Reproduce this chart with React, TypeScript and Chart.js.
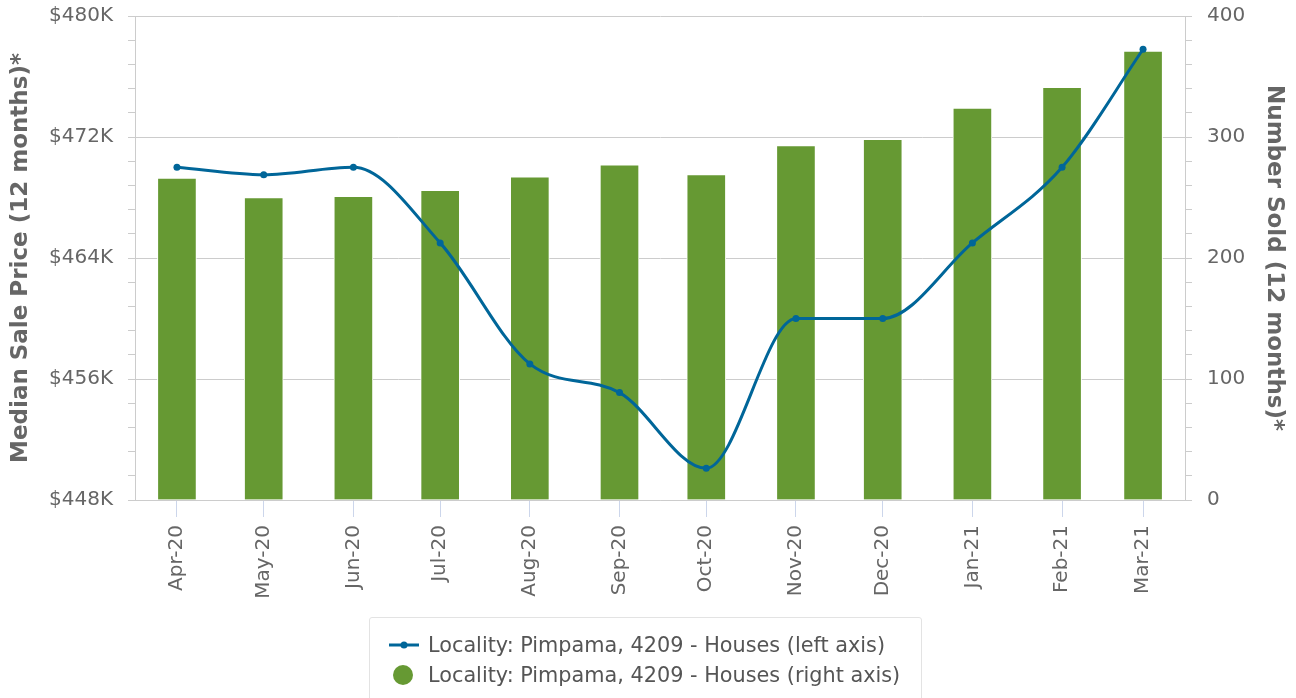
import React, { useEffect, useRef } from "react";
import { Chart, registerables } from "chart.js";

Chart.register(...registerables);

// ---- Data ----
const monthLabels = ["Apr-20", "May-20", "Jun-20", "Jul-20", "Aug-20", "Sep-20", "Oct-20", "Nov-20", "Dec-20", "Jan-21", "Feb-21", "Mar-21"];
const monthDates = ["2020-04-01", "2020-05-01", "2020-06-01", "2020-07-01", "2020-08-01", "2020-09-01", "2020-10-01", "2020-11-01", "2020-12-01", "2021-01-01", "2021-02-01", "2021-03-01"];
const medianPrice = [470000, 469500, 470000, 465000, 457000, 455100, 450100, 460000, 460000, 465000, 470000, 477800];
const numberSold = [266, 250, 251, 256, 267, 277, 269, 293, 298, 324, 341, 371];
const priceTicks = [448000, 456000, 464000, 472000, 480000];
const soldTicks = [0, 100, 200, 300, 400];
const seriesLabelLine = "Locality: Pimpama, 4209 - Houses (left axis)";
const seriesLabelBar = "Locality: Pimpama, 4209 - Houses (right axis)";

const LINE_COLOR = "#006699";
const BAR_COLOR = "#669933";
const FONT = "'DejaVu Sans', sans-serif";

const DAY = 86400000;
const origin = Date.UTC(2020, 3, 1);
const dayOf = (s: string) => {
  const [y, m, d] = s.split("-").map(Number);
  return Math.round((Date.UTC(y, m - 1, d) - origin) / DAY);
};
const days = monthDates.map(dayOf);

export default function App() {
  const ref = useRef<HTMLCanvasElement | null>(null);

  useEffect(() => {
    if (!ref.current) return;
    const chart = new Chart(ref.current, {
      data: {
        datasets: [
          {
            type: "line",
            label: seriesLabelLine,
            data: days.map((d, i) => ({ x: d, y: medianPrice[i] })),
            yAxisID: "yPrice",
            borderColor: LINE_COLOR,
            backgroundColor: LINE_COLOR,
            borderWidth: 3,
            pointRadius: 3.5,
            pointBorderWidth: 0,
            pointBackgroundColor: LINE_COLOR,
            cubicInterpolationMode: "monotone",
            order: 0,
          },
          {
            type: "bar",
            label: seriesLabelBar,
            data: days.map((d, i) => ({ x: d, y: numberSold[i] })),
            yAxisID: "ySold",
            backgroundColor: BAR_COLOR,
            borderColor: "#ffffff",
            borderWidth: 1,
            barThickness: 39,
            order: 1,
          },
        ],
      },
      options: {
        animation: false,
        responsive: false,
        events: [],
        layout: { padding: { top: 16, bottom: 0, left: 0, right: 0 } },
        plugins: { legend: { display: false }, tooltip: { enabled: false } },
        scales: {
          x: {
            type: "linear",
            offset: false,
            min: days[0] - 14.5,
            max: days[days.length - 1] + 14.5,
            afterBuildTicks: (scale: any) => {
              scale.ticks = days.map((v) => ({ value: v }));
            },
            afterFit: (scale: any) => {
              scale.height = 198;
            },
            grid: {
              offset: false,
              drawOnChartArea: false,
              drawTicks: true,
              tickLength: 17,
              color: "#ccd6eb",
              tickColor: "#ccd6eb",
            },
            border: { color: "#cccccc", width: 1 },
            ticks: {
              autoSkip: false,
              maxRotation: 90,
              minRotation: 90,
              padding: 8,
              color: "#666666",
              font: { family: FONT, size: 20 },
              callback: (_v: any, i: number) => monthLabels[i],
            },
          },
          yPrice: {
            type: "linear",
            position: "left",
            min: 448000,
            max: 480000,
            afterFit: (scale: any) => {
              scale.width = 135;
              scale.paddingTop = 0;
              scale.paddingBottom = 0;
            },
            grid: {
              color: (ctx: any) => (ctx.tick && priceTicks.includes(ctx.tick.value) ? "#cccccc" : "rgba(0,0,0,0)"),
              tickColor: "#cccccc",
              tickLength: 7,
              lineWidth: 1,
            },
            border: { color: "#cccccc", width: 1 },
            ticks: {
              stepSize: 1600,
              autoSkip: false,
              padding: 15,
              color: "#666666",
              font: { family: FONT, size: 20 },
              callback: (v: any) => (priceTicks.includes(v) ? "$" + v / 1000 + "K" : ""),
            },
            title: {
              display: true,
              text: "Median Sale Price (12 months)*",
              color: "#666666",
              font: { family: FONT, size: 23, weight: "bold" },
              padding: { top: 7, bottom: 0 },
            },
          },
          ySold: {
            type: "linear",
            position: "right",
            min: 0,
            max: 400,
            afterFit: (scale: any) => {
              scale.width = 111;
              scale.paddingTop = 0;
              scale.paddingBottom = 0;
            },
            grid: {
              drawOnChartArea: false,
              tickColor: "#cccccc",
              color: "#cccccc",
              tickLength: 7,
            },
            border: { color: "#cccccc", width: 1 },
            ticks: {
              stepSize: 20,
              autoSkip: false,
              padding: 15,
              color: "#666666",
              font: { family: FONT, size: 20 },
              callback: (v: any) => (soldTicks.includes(v) ? String(v) : ""),
            },
            title: {
              display: true,
              text: "Number Sold (12 months)*",
              color: "#666666",
              font: { family: FONT, size: 23, weight: "bold" },
              padding: { top: 8.5, bottom: 0 },
            },
          },
        },
      },
    } as any);
    return () => chart.destroy();
  }, []);

  return (
    <div
      style={{
        position: "absolute",
        left: 0,
        top: 0,
        width: 1296,
        height: 698,
        overflow: "hidden",
        background: "#ffffff",
        fontFamily: FONT,
      }}
    >
      <canvas ref={ref} width={1296} height={698} style={{ position: "absolute", left: 0, top: 0, width: 1296, height: 698 }} />
      <div
        style={{
          position: "absolute",
          left: 369,
          top: 617,
          width: 553,
          height: 120,
          border: "1px solid #e3e3e3",
          borderRadius: 3,
          boxSizing: "border-box",
        }}
      >
        <div style={{ position: "absolute", left: 18, top: 13, height: 28, display: "flex", alignItems: "center" }}>
          <svg width={32} height={12} style={{ marginRight: 8 }}>
            <line x1={1} y1={6} x2={31} y2={6} stroke={LINE_COLOR} strokeWidth={3} />
            <circle cx={16} cy={6} r={3.5} fill={LINE_COLOR} />
          </svg>
          <span style={{ fontSize: 20.8, color: "#555555", whiteSpace: "nowrap" }}>{seriesLabelLine}</span>
        </div>
        <div style={{ position: "absolute", left: 18, top: 43, height: 28, display: "flex", alignItems: "center" }}>
          <svg width={32} height={22} style={{ marginRight: 8 }}>
            <circle cx={15} cy={11} r={10} fill={BAR_COLOR} />
          </svg>
          <span style={{ fontSize: 20.8, color: "#555555", whiteSpace: "nowrap" }}>{seriesLabelBar}</span>
        </div>
      </div>
    </div>
  );
}
